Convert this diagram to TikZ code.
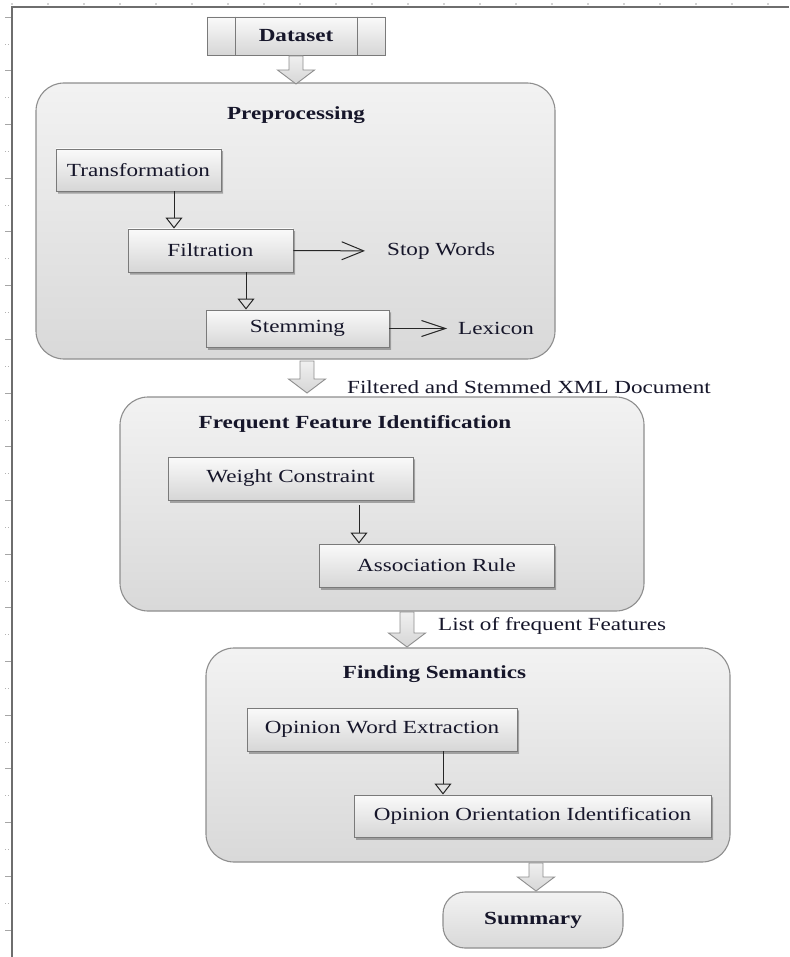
\documentclass[tikz,border=0pt]{standalone}
\usepackage{fontspec}
\setmainfont{Liberation Serif}[FakeStretch=1.25]
\usepackage{xcolor}
\usetikzlibrary{positioning,shadows,arrows.meta}

\definecolor{ink}{HTML}{16162A}
\definecolor{rulegray}{HTML}{6E6E6E}
\definecolor{panelline}{HTML}{8E8E8E}
\definecolor{boxline}{HTML}{7A7A7A}

% Hollow block arrow: centre x, top y, tip y
\newcommand{\bigarrow}[3]{%
	\draw[blockarr] (#1-7,#2) -- (#1+7,#2) -- (#1+7,#3-14) -- (#1+18.5,#3-14) -- (#1,#3)
		-- (#1-18.5,#3-14) -- (#1-7,#3-14) -- cycle;}

\begin{document}
\begin{tikzpicture}[x=1pt,y=1pt,yscale=-1,xscale=1,
	font=\fontsize{18.5}{22}\selectfont, text=ink,
	panel/.style={draw=panelline, line width=1.1pt, rounded corners=28pt, top color=white!95!black, bottom color=white!85!black, inner sep=0pt},
	procbox/.style={draw=boxline, line width=0.9pt, top color=white!98!black, bottom color=white!84!black, inner sep=0pt,
		drop shadow={shadow xshift=2pt, shadow yshift=-2.5pt, opacity=0.35, top color=black!60, bottom color=black!60, draw=none}},
	titletxt/.style={font=\fontsize{18.5}{22}\selectfont\bfseries, inner sep=0pt},
	plaintxt/.style={inner sep=0pt, anchor=west},
	blockarr/.style={draw=panelline, line width=0.9pt, top color=white!94!black, bottom color=white!84!black, line join=miter},
	flowarr/.style={-{Triangle[open,width=17pt,length=11pt,line width=1pt]}, line width=1pt, draw=black!85},
	barbarr/.style={-{Straight Barb[width=18pt,length=22pt,line width=1pt]}, line width=1pt, draw=black!85}]

	\useasboundingbox (0,0) rectangle (789,957);

	% Page ruler lines at the top and on the left
	\draw[rulegray, line width=1.5pt] (11,7) -- (789,7);
	\draw[rulegray, line width=2pt] (11.5,7) -- (11.5,957);
	\foreach \tx in {0,...,21} \fill[black!35] (12+36*\tx,4) circle (0.8);
	\foreach \ty in {0,...,17} \draw[black!35, line width=0.8pt] (5,17+53.7*\ty) -- (11,17+53.7*\ty);
	\foreach \ty in {0,...,17} \draw[black!30, line width=0.8pt, dotted] (5,44+53.7*\ty) -- (10,44+53.7*\ty);

	% The dataset box with its two side bars
	\node[draw=boxline, line width=0.9pt, top color=white!98!black, bottom color=white!84!black, minimum width=178pt, minimum height=38pt] (dataset) at (296,36) {};
	\draw[boxline, line width=0.9pt] ([xshift=29pt]dataset.north west) -- ([xshift=29pt]dataset.south west);
	\draw[boxline, line width=0.9pt] ([xshift=-28pt]dataset.north east) -- ([xshift=-28pt]dataset.south east);
	\node[titletxt] (datasettxt) at (dataset.center) {Dataset};

	% The three stage panels and the summary
	\node[panel, minimum width=519pt, minimum height=276pt] (pre) at (295.5,221) {};
	\node[panel, minimum width=524pt, minimum height=214pt] (freq) at (382,504) {};
	\node[panel, minimum width=524pt, minimum height=214pt] (sem) at (468,755) {};
	\node[panel, rounded corners=22pt, minimum width=180pt, minimum height=56pt] (summary) at (533,920) {};
	\node[titletxt] (summarytxt) at (summary.center) {Summary};

	% Panel titles
	\node[titletxt] (pretitle) at (296,115) {Preprocessing};
	\node[titletxt] (freqtitle) at (355,424) {Frequent Feature Identification};
	\node[titletxt] (semtitle) at (434.5,674) {Finding Semantics};

	% Block arrows between the stages
	\bigarrow{296}{56}{84}
	\bigarrow{307}{361}{393}
	\bigarrow{407}{612}{647}
	\bigarrow{536}{863}{891}

	% Labels beside the block arrows
	\node[plaintxt] (filtered) at (347,387) {Filtered and Stemmed XML Document};
	\node[plaintxt] (freqlist) at (438,626) {List of frequent Features};

	% Preprocessing steps
	\node[procbox, minimum width=165pt, minimum height=42pt] (trans) at (138.5,170) {Transformation};
	\node[procbox, minimum width=165pt, minimum height=43pt] (filt) at (210.5,250.5) {Filtration};
	\node[procbox, minimum width=183pt, minimum height=37pt] (stem) at (297.5,328.5) {Stemming};
	\node[plaintxt] (stop) at (387,251) {Stop Words};
	\node[plaintxt] (lex) at (458,328.5) {Lexicon};

	\draw[flowarr] ([xshift=35.5pt]trans.south) -- ([xshift=35.5pt]trans.south |- filt.north);
	\draw[flowarr] ([xshift=35.5pt]filt.south) -- ([xshift=35.5pt]filt.south |- stem.north);
	\draw[barbarr, shorten >=22pt] (filt.east) -- (stop.west);
	\draw[barbarr, -{Straight Barb[width=16pt,length=24pt,line width=1pt]}, shorten >=11pt] (stem.east) -- (lex.west);

	% Frequent feature steps
	\node[procbox, minimum width=245pt, minimum height=43pt] (weight) at (290.5,478.5) {Weight Constraint};
	\node[procbox, minimum width=235pt, minimum height=43pt] (assoc) at (436.5,565.5) {Association Rule};
	\draw[flowarr] ([xshift=68.5pt,yshift=5pt]weight.south) -- ([xshift=68.5pt]weight.south |- assoc.north);

	% Semantic steps
	\node[procbox, minimum width=270pt, minimum height=43pt] (owe) at (382,729.5) {Opinion Word Extraction};
	\node[procbox, minimum width=357pt, minimum height=42pt] (ooi) at (532.5,816) {Opinion Orientation Identification};
	\draw[flowarr] ([xshift=61pt]owe.south) -- ([xshift=61pt]owe.south |- ooi.north);
\end{tikzpicture}
\end{document}
